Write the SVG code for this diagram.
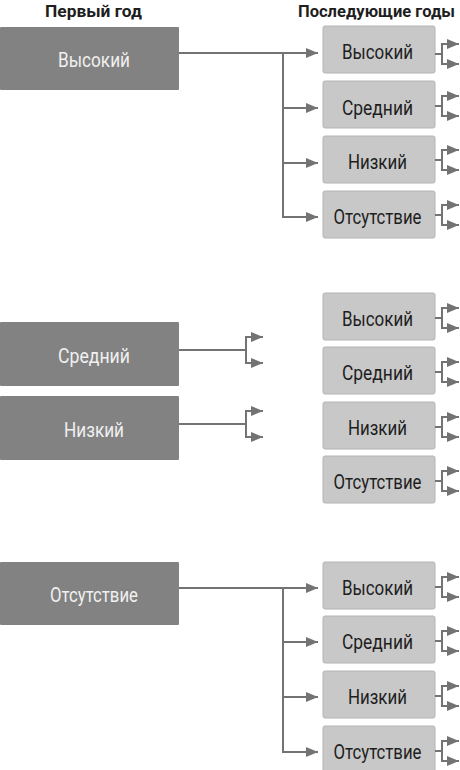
<svg xmlns="http://www.w3.org/2000/svg" width="460" height="770" viewBox="0 0 460 770">
<defs>
<marker id="ah" markerUnits="userSpaceOnUse" markerWidth="13" markerHeight="11" refX="12" refY="5" orient="auto">
<path d="M0,0 L12,5 L0,10 z" fill="#737373"/>
</marker>
<style>
.dk{fill:#828282;}
.lt{fill:#c8c8c8;stroke:#b4b4b4;stroke-width:1;}
.tw{font-family:Roboto,"Liberation Sans",sans-serif;font-size:20.5px;fill:#f0f0f0;text-anchor:middle;}
.tb{font-family:Roboto,"Liberation Sans",sans-serif;font-size:20.5px;fill:#1e1e1e;text-anchor:middle;}
.hd{font-family:Roboto,"Liberation Sans",sans-serif;font-size:17px;font-weight:bold;fill:#1e1e1e;text-anchor:middle;}
.ln{fill:none;stroke:#737373;stroke-width:2;}
.ar{fill:none;stroke:#737373;stroke-width:2;marker-end:url(#ah);}
</style>
</defs>
<rect width="460" height="770" fill="#ffffff"/>
<g id="headers">
<text class="hd" x="93.5" y="16.5" textLength="97" lengthAdjust="spacingAndGlyphs">Первый год</text>
<text class="hd" x="376.5" y="16.5" textLength="157" lengthAdjust="spacingAndGlyphs">Последующие годы</text>
</g>
<g id="first-vysokiy"><rect class="dk" x="0" y="27" width="179" height="63" rx="1"/><text class="tw" x="94" y="67" textLength="72" lengthAdjust="spacingAndGlyphs">Высокий</text></g>
<g id="first-sredniy"><rect class="dk" x="0" y="322" width="179" height="64" rx="1"/><text class="tw" x="94" y="363" textLength="72" lengthAdjust="spacingAndGlyphs">Средний</text></g>
<g id="first-nizkiy"><rect class="dk" x="0" y="396" width="179" height="64" rx="1"/><text class="tw" x="94" y="437" textLength="60" lengthAdjust="spacingAndGlyphs">Низкий</text></g>
<g id="first-otsutstvie"><rect class="dk" x="0" y="562" width="179" height="63" rx="1"/><text class="tw" x="94" y="601.5" textLength="88" lengthAdjust="spacingAndGlyphs">Отсутствие</text></g>

<g id="s1-vysokiy"><rect class="lt" x="323" y="26" width="112" height="47" rx="2"/><text class="tb" x="377.5" y="58.5" textLength="71" lengthAdjust="spacingAndGlyphs">Высокий</text></g>
<g id="s1-sredniy"><rect class="lt" x="323" y="81" width="112" height="47" rx="2"/><text class="tb" x="377.5" y="114.5" textLength="71" lengthAdjust="spacingAndGlyphs">Средний</text></g>
<g id="s1-nizkiy"><rect class="lt" x="323" y="136" width="112" height="47" rx="2"/><text class="tb" x="377.5" y="169" textLength="59" lengthAdjust="spacingAndGlyphs">Низкий</text></g>
<g id="s1-otsutstvie"><rect class="lt" x="323" y="191" width="112" height="47" rx="2"/><text class="tb" x="377.5" y="224" textLength="88" lengthAdjust="spacingAndGlyphs">Отсутствие</text></g>

<g id="s2-vysokiy"><rect class="lt" x="323" y="293" width="112" height="47" rx="2"/><text class="tb" x="377.5" y="326" textLength="71" lengthAdjust="spacingAndGlyphs">Высокий</text></g>
<g id="s2-sredniy"><rect class="lt" x="323" y="347" width="112" height="47" rx="2"/><text class="tb" x="377.5" y="380" textLength="71" lengthAdjust="spacingAndGlyphs">Средний</text></g>
<g id="s2-nizkiy"><rect class="lt" x="323" y="402" width="112" height="47" rx="2"/><text class="tb" x="377.5" y="435" textLength="59" lengthAdjust="spacingAndGlyphs">Низкий</text></g>
<g id="s2-otsutstvie"><rect class="lt" x="323" y="456" width="112" height="47" rx="2"/><text class="tb" x="377.5" y="489" textLength="88" lengthAdjust="spacingAndGlyphs">Отсутствие</text></g>

<g id="s3-vysokiy"><rect class="lt" x="323" y="562" width="112" height="47" rx="2"/><text class="tb" x="377.5" y="595" textLength="71" lengthAdjust="spacingAndGlyphs">Высокий</text></g>
<g id="s3-sredniy"><rect class="lt" x="323" y="616" width="112" height="47" rx="2"/><text class="tb" x="377.5" y="649" textLength="71" lengthAdjust="spacingAndGlyphs">Средний</text></g>
<g id="s3-nizkiy"><rect class="lt" x="323" y="671" width="112" height="47" rx="2"/><text class="tb" x="377.5" y="704" textLength="59" lengthAdjust="spacingAndGlyphs">Низкий</text></g>
<g id="s3-otsutstvie"><rect class="lt" x="323" y="726" width="112" height="47" rx="2"/><text class="tb" x="377.5" y="759" textLength="88" lengthAdjust="spacingAndGlyphs">Отсутствие</text></g>

<g id="connectors">
<path class="ar" d="M179,53 H318"/>
<path class="ln" d="M283,53 V217"/>
<path class="ar" d="M282,108 H318"/>
<path class="ar" d="M282,163 H318"/>
<path class="ar" d="M282,217 H318"/>
<path class="ar" d="M179,588 H318"/>
<path class="ln" d="M283,588 V752"/>
<path class="ar" d="M282,642 H318"/>
<path class="ar" d="M282,697 H318"/>
<path class="ar" d="M282,752 H318"/>
<path class="ln" d="M179,350 H246"/>
<path class="ar" d="M246,350 V337 H263"/>
<path class="ar" d="M246,350 V363 H263"/>
<path class="ln" d="M179,424 H246"/>
<path class="ar" d="M246,424 V411 H263"/>
<path class="ar" d="M246,424 V437 H263"/>
<path class="ln" d="M435,54 H442"/><path class="ar" d="M442,54 V44 H459"/><path class="ar" d="M442,54 V64 H459"/>
<path class="ln" d="M435,106 H442"/><path class="ar" d="M442,106 V96 H459"/><path class="ar" d="M442,106 V116 H459"/>
<path class="ln" d="M435,160 H442"/><path class="ar" d="M442,160 V150 H459"/><path class="ar" d="M442,160 V170 H459"/>
<path class="ln" d="M435,215 H442"/><path class="ar" d="M442,215 V205 H459"/><path class="ar" d="M442,215 V225 H459"/>
<path class="ln" d="M435,318 H442"/><path class="ar" d="M442,318 V308 H459"/><path class="ar" d="M442,318 V328 H459"/>
<path class="ln" d="M435,372 H442"/><path class="ar" d="M442,372 V362 H459"/><path class="ar" d="M442,372 V382 H459"/>
<path class="ln" d="M435,427 H442"/><path class="ar" d="M442,427 V417 H459"/><path class="ar" d="M442,427 V437 H459"/>
<path class="ln" d="M435,481 H442"/><path class="ar" d="M442,481 V471 H459"/><path class="ar" d="M442,481 V491 H459"/>
<path class="ln" d="M435,587 H442"/><path class="ar" d="M442,587 V577 H459"/><path class="ar" d="M442,587 V597 H459"/>
<path class="ln" d="M435,641 H442"/><path class="ar" d="M442,641 V631 H459"/><path class="ar" d="M442,641 V651 H459"/>
<path class="ln" d="M435,696 H442"/><path class="ar" d="M442,696 V686 H459"/><path class="ar" d="M442,696 V706 H459"/>
<path class="ln" d="M435,751 H442"/><path class="ar" d="M442,751 V741 H459"/><path class="ar" d="M442,751 V761 H459"/>
</g>
</svg>
